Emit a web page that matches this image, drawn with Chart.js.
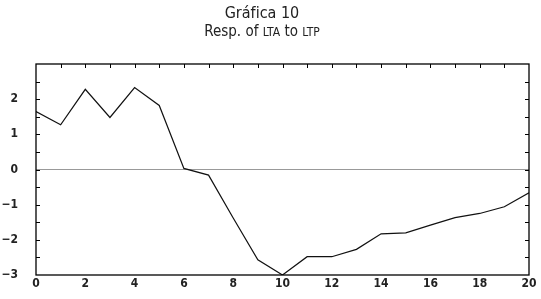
<!DOCTYPE html>
<html lang="es">
<head>
    <meta charset="UTF-8">
    <title>Gráfica 10</title>
    <script src="https://cdn.jsdelivr.net/npm/chart.js"></script>
    <style>
        body { margin: 0; background: #fff; font-family: "DejaVu Sans Condensed", "Liberation Sans", sans-serif; color: #222; }
        .caja { position: relative; width: 541px; height: 299px; }
        .titulo { position: absolute; left: 0; width: 524px; text-align: center; }
        #t1 { top: 3px; font-size: 16px; }
        #t2 { top: 22px; font-size: 15px; }
        .sc { font-size: 12px; }
    </style>
</head>
<body>
    <div class="caja">
        <canvas id="grafico" width="541" height="299"></canvas>
        <div class="titulo" id="t1">Gráfica 10</div>
        <div class="titulo" id="t2">Resp. of <span class="sc">LTA</span> to <span class="sc">LTP</span></div>
    </div>

    <script>
        // periodos y respuesta
        const periodos = [0, 1, 2, 3, 4, 5, 6, 7, 8, 9, 10, 11, 12, 13, 14, 15, 16, 17, 18, 19, 20];
        const respuesta = [1.65, 1.27, 2.28, 1.48, 2.33, 1.82, 0.03, -0.16, -1.38, -2.57, -3.0,
                           -2.48, -2.48, -2.27, -1.83, -1.80, -1.58, -1.37, -1.25, -1.06, -0.66];
        const ticksY = [-3, -2, -1, 0, 1, 2];

        // marcas hacia dentro en los cuatro lados
        const marcasInternas = {
            id: 'marcasInternas',
            afterDraw(chart) {
                const c = chart.ctx, a = chart.chartArea;
                const x = chart.scales.x, y = chart.scales.y;
                c.save();
                c.strokeStyle = '#000';
                c.lineWidth = 1;
                c.beginPath();
                for (let v = 1; v < 20; v++) {
                    const px = Math.round(x.getPixelForValue(v)) + 0.5;
                    c.moveTo(px, a.top); c.lineTo(px, a.top + 4);
                }
                for (let v = -2.5; v < 3; v += 0.5) {
                    const py = Math.round(y.getPixelForValue(v)) + 0.5;
                    c.moveTo(a.left, py); c.lineTo(a.left + 4, py);
                    c.moveTo(a.right, py); c.lineTo(a.right - 4, py);
                }
                c.stroke();
                c.lineWidth = 1.3;
                c.strokeRect(a.left, a.top, a.right - a.left, a.bottom - a.top);
                c.restore();
            }
        };

        const fuente = { family: '"DejaVu Sans Condensed", sans-serif', size: 12, weight: 'bold' };
        const menos = v => String(v).replace('-', '\u2212');

        new Chart(document.getElementById('grafico'), {
            type: 'line',
            data: {
                datasets: [{
                    data: periodos.map((p, i) => ({ x: p, y: respuesta[i] })),
                    borderColor: '#111',
                    borderWidth: 1.2,
                    pointRadius: 0,
                    tension: 0
                }]
            },
            options: {
                responsive: false,
                animation: false,
                layout: { padding: { top: 64, right: 12, left: 0, bottom: 0 } },
                plugins: { legend: { display: false }, tooltip: { enabled: false } },
                scales: {
                    x: {
                        type: 'linear', min: 0, max: 20,
                        ticks: { stepSize: 2, color: '#222', font: fuente, padding: 2, maxRotation: 0, callback: menos },
                        grid: { display: false, drawTicks: false },
                        border: { display: false },
                        afterFit: s => { s.height = 24; }
                    },
                    y: {
                        min: -3, max: 3,
                        afterBuildTicks: s => { s.ticks = ticksY.map(v => ({ value: v })); },
                        ticks: { color: '#222', font: fuente, padding: 18, callback: menos },
                        grid: {
                            drawTicks: false,
                            color: ctx => ctx.tick && ctx.tick.value === 0 ? '#999' : 'transparent',
                            lineWidth: 1
                        },
                        border: { display: false },
                        afterFit: s => { s.width = 36; s.paddingTop = 8; s.paddingBottom = 8; }
                    }
                }
            },
            plugins: [marcasInternas]
        });
    </script>
</body>
</html>
